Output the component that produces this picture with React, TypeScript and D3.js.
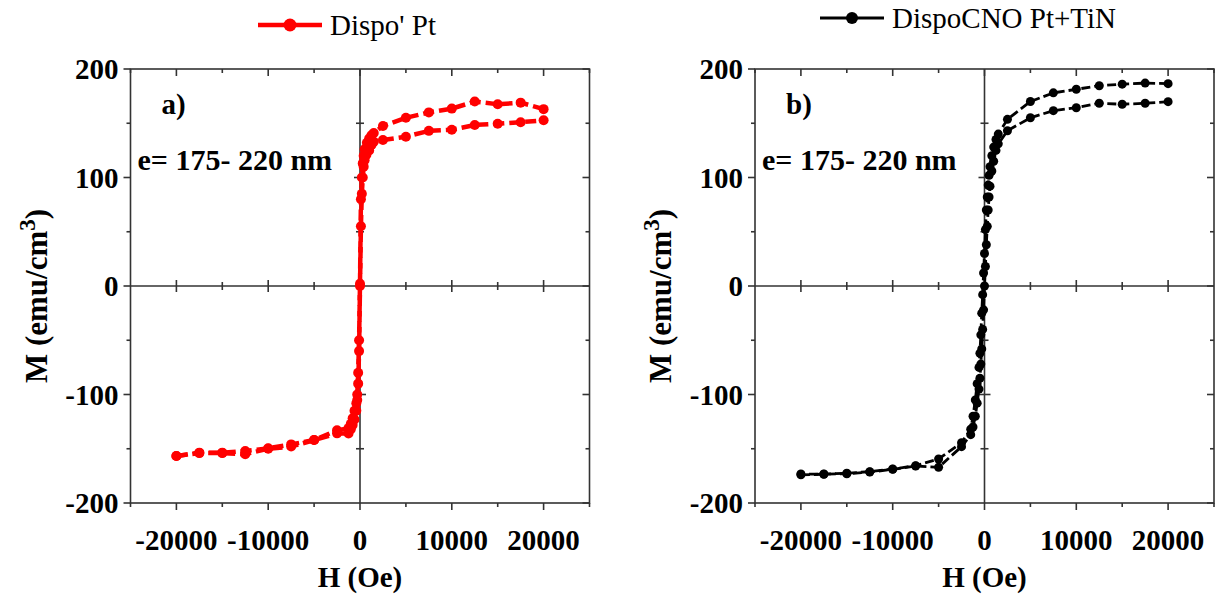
import React from "react";
import * as d3 from "d3";

// ---------- DATA ----------
// Panel a) Dispo' Pt  (H in Oe, M in emu/cm3)
const redDescH = [20000, 17500, 15000, 12500, 10000, 7500, 5000, 2500, 1500, 1250, 1000, 750, 500, 400, 300, 200, 100, 0, -100, -200, -300, -400, -600, -800, -1000, -1250, -2500, -5000, -7500, -10000, -12500, -15000, -17500, -20000];
const redDescM = [163, 169, 167.5, 170, 163.5, 160, 155, 147.5, 141, 139, 136, 132, 126, 120, 113, 100, 80, 2, -50, -80, -100, -108, -115, -122, -127, -131, -133, -142, -146, -149.6, -152, -153.6, -153.6, -156.7];
const redAscH = [-20000, -17500, -15000, -12500, -10000, -7500, -5000, -2500, -1250, -1000, -800, -600, -400, -300, -200, -100, 0, 100, 200, 300, 400, 500, 700, 1000, 1250, 1500, 2500, 5000, 7500, 10000, 12500, 15000, 17500, 20000];
const redAscM = [-156.7, -154, -154, -155, -150, -148, -142, -135.8, -136, -132, -128, -123, -115, -105, -90, -60, 0, 55, 85, 100, 110, 116, 121, 125, 130, 133, 134.6, 137.6, 143, 144, 148.4, 149.6, 151, 152.7];

// Panel b) DispoCNO Pt+TiN
const blackDescH = [20000, 17500, 15000, 12500, 10000, 7500, 5000, 2500, 1500, 1250, 1000, 800, 600, 500, 400, 300, 200, 100, 0, -100, -200, -300, -400, -500, -600, -800, -1000, -1250, -1500, -2500, -5000, -7500, -10000, -12500, -15000, -17500, -20000];
const blackDescM = [186.5, 187, 186, 184.6, 181.3, 178, 170, 153.6, 140, 135, 128, 120, 110, 102, 93, 82, 70, 52, 30, 12, -8, -25, -45, -62, -75, -90, -105, -120, -132, -144.4, -159.4, -165.6, -168.7, -171.1, -172.6, -173.3, -173.3];
const blackAscH = [-20000, -17500, -15000, -12500, -10000, -7500, -5000, -2500, -1500, -1250, -1000, -800, -600, -500, -400, -300, -200, -100, 0, 100, 200, 300, 400, 500, 600, 800, 1000, 1250, 1500, 2500, 5000, 7500, 10000, 12500, 15000, 17500, 20000];
const blackAscM = [-174, -173.5, -173, -171.5, -169, -166, -167.1, -148.1, -137, -130, -120, -108, -95, -85, -72, -58, -40, -22, 0, 18, 38, 55, 70, 82, 92, 106, 115, 125, 131, 143.1, 155.1, 161.6, 164.3, 168.4, 167.5, 168.4, 169.9];

const xTickLabels = [-20000, -10000, 0, 10000, 20000];
const yTickLabels = [-200, -100, 0, 100, 200];
const xMinorTicks = [-25000, -15000, -5000, 5000, 15000, 25000];
const yMinorTicks = [-150, -50, 50, 150];

const FONT = "Liberation Serif";
const AXIS = "#333";

type PanelProps = {
  left: number;
  right: number;
  top: number;
  bottom: number;
  branches: { h: number[]; m: number[] }[];
  color: string;
  lw: number;
  r: number;
  dash: string;
  letter: string;
  legendText: string;
  legendX: number;
  legendY: number;
  legendLw: number;
  legendR: number;
  titleX: number;
};

function T(props: any) {
  const { children, bold, size, ...rest } = props;
  return (
    <text fontFamily={FONT} fontWeight={bold === false ? "normal" : "bold"} fontSize={size || 29} fill="#000" {...rest}>
      {children}
    </text>
  );
}

function Panel(p: PanelProps) {
  const x = d3.scaleLinear().domain([-25000, 25000]).range([p.left, p.right]);
  const y = d3.scaleLinear().domain([-200, 200]).range([p.bottom, p.top]);
  const line = d3
    .line<[number, number]>()
    .x((d) => x(d[0]))
    .y((d) => y(d[1]));
  const x0 = x(0);
  const y0 = y(0);
  const midX = (p.left + p.right) / 2;
  const zeroXTicks = d3.range(-20000, 20001, 5000).filter((v) => v !== 0);
  const zeroYTicks = d3.range(-150, 151, 50).filter((v) => v !== 0);
  return (
    <g>
      <rect x={p.left} y={p.top} width={p.right - p.left} height={p.bottom - p.top} fill="none" stroke={AXIS} strokeWidth={1.6} />
      <line x1={x0} x2={x0} y1={p.top} y2={p.bottom} stroke={AXIS} strokeWidth={1.6} />
      <line x1={p.left} x2={p.right} y1={y0} y2={y0} stroke={AXIS} strokeWidth={1.6} />
      {zeroXTicks.map((v) => {
        const len = v % 10000 === 0 ? 6 : 4;
        return <line key={"zx" + v} x1={x(v)} x2={x(v)} y1={y0 - len} y2={y0 + len} stroke={AXIS} strokeWidth={1.6} />;
      })}
      {zeroYTicks.map((v) => {
        const len = v % 100 === 0 ? 6 : 4;
        return <line key={"zy" + v} x1={x0 - len} x2={x0 + len} y1={y(v)} y2={y(v)} stroke={AXIS} strokeWidth={1.6} />;
      })}
      {xTickLabels.map((v) => (
        <g key={"xt" + v}>
          <line x1={x(v)} x2={x(v)} y1={p.bottom} y2={p.bottom + 7} stroke={AXIS} strokeWidth={1.6} />
          <line x1={x(v)} x2={x(v)} y1={p.top} y2={p.top + 7} stroke={AXIS} strokeWidth={1.6} />
          <T x={x(v)} y={p.bottom + 47} textAnchor="middle">
            {String(v)}
          </T>
        </g>
      ))}
      {xMinorTicks.map((v) => (
        <g key={"xm" + v}>
          <line x1={x(v)} x2={x(v)} y1={p.bottom} y2={p.bottom + 4} stroke={AXIS} strokeWidth={1.6} />
          <line x1={x(v)} x2={x(v)} y1={p.top} y2={p.top + 4} stroke={AXIS} strokeWidth={1.6} />
        </g>
      ))}
      {yTickLabels.map((v) => (
        <g key={"yt" + v}>
          <line x1={p.left - 7} x2={p.left} y1={y(v)} y2={y(v)} stroke={AXIS} strokeWidth={1.6} />
          <line x1={p.right - 7} x2={p.right} y1={y(v)} y2={y(v)} stroke={AXIS} strokeWidth={1.6} />
          <T x={p.left - 12} y={y(v) + 10} textAnchor="end">
            {String(v)}
          </T>
        </g>
      ))}
      {yMinorTicks.map((v) => (
        <g key={"ym" + v}>
          <line x1={p.left - 4} x2={p.left} y1={y(v)} y2={y(v)} stroke={AXIS} strokeWidth={1.6} />
          <line x1={p.right - 4} x2={p.right} y1={y(v)} y2={y(v)} stroke={AXIS} strokeWidth={1.6} />
        </g>
      ))}
      {p.branches.map((b, i) => {
        const pts = b.h.map((h, k) => [h, b.m[k]] as [number, number]);
        return (
          <g key={"br" + i}>
            <path d={line(pts) || ""} fill="none" stroke={p.color} strokeWidth={p.lw} strokeDasharray={p.dash} />
            {pts.map((d, k) => (
              <circle key={k} cx={x(d[0])} cy={y(d[1])} r={p.r} fill={p.color} />
            ))}
          </g>
        );
      })}
      <T x={p.left + 31} y={p.top + 45}>
        {p.letter}
      </T>
      <T x={p.left + 7} y={p.top + 101} size={30}>
        e= 175- 220 nm
      </T>
      <T x={midX} y={p.bottom + 84} textAnchor="middle">
        H (Oe)
      </T>
      <T transform={`translate(${p.titleX},${(p.top + p.bottom) / 2 + 10}) rotate(-90)`} textAnchor="middle" size={31}>
        M (emu/cm<tspan dy={-12} fontSize={23}>3</tspan>
        <tspan dy={12}>)</tspan>
      </T>
      <line x1={p.legendX} x2={p.legendX + 64} y1={p.legendY} y2={p.legendY} stroke={p.color} strokeWidth={p.legendLw} />
      <circle cx={p.legendX + 32} cy={p.legendY} r={p.legendR} fill={p.color} />
      <T x={p.legendX + 72} y={p.legendY + 10} bold={false}>
        {p.legendText}
      </T>
    </g>
  );
}

export default function App() {
  return (
    <svg
      width={1216}
      height={596}
      style={{ position: "absolute", left: 0, top: 0, display: "block", background: "#fff" }}
    >
      <Panel
        left={130.5}
        right={589.5}
        top={69}
        bottom={503}
        branches={[
          { h: redDescH, m: redDescM },
          { h: redAscH, m: redAscM },
        ]}
        color="#ff0000"
        lw={4.5}
        r={5}
        dash="11,5"
        letter="a)"
        legendText="Dispo' Pt"
        legendX={258}
        legendY={25}
        legendLw={4.5}
        legendR={6.5}
        titleX={47}
      />
      <Panel
        left={755}
        right={1214}
        top={69}
        bottom={503}
        branches={[
          { h: blackDescH, m: blackDescM },
          { h: blackAscH, m: blackAscM },
        ]}
        color="#000000"
        lw={2.8}
        r={4.5}
        dash="9,4"
        letter="b)"
        legendText="DispoCNO Pt+TiN"
        legendX={820}
        legendY={18}
        legendLw={3}
        legendR={6}
        titleX={671}
      />
    </svg>
  );
}
